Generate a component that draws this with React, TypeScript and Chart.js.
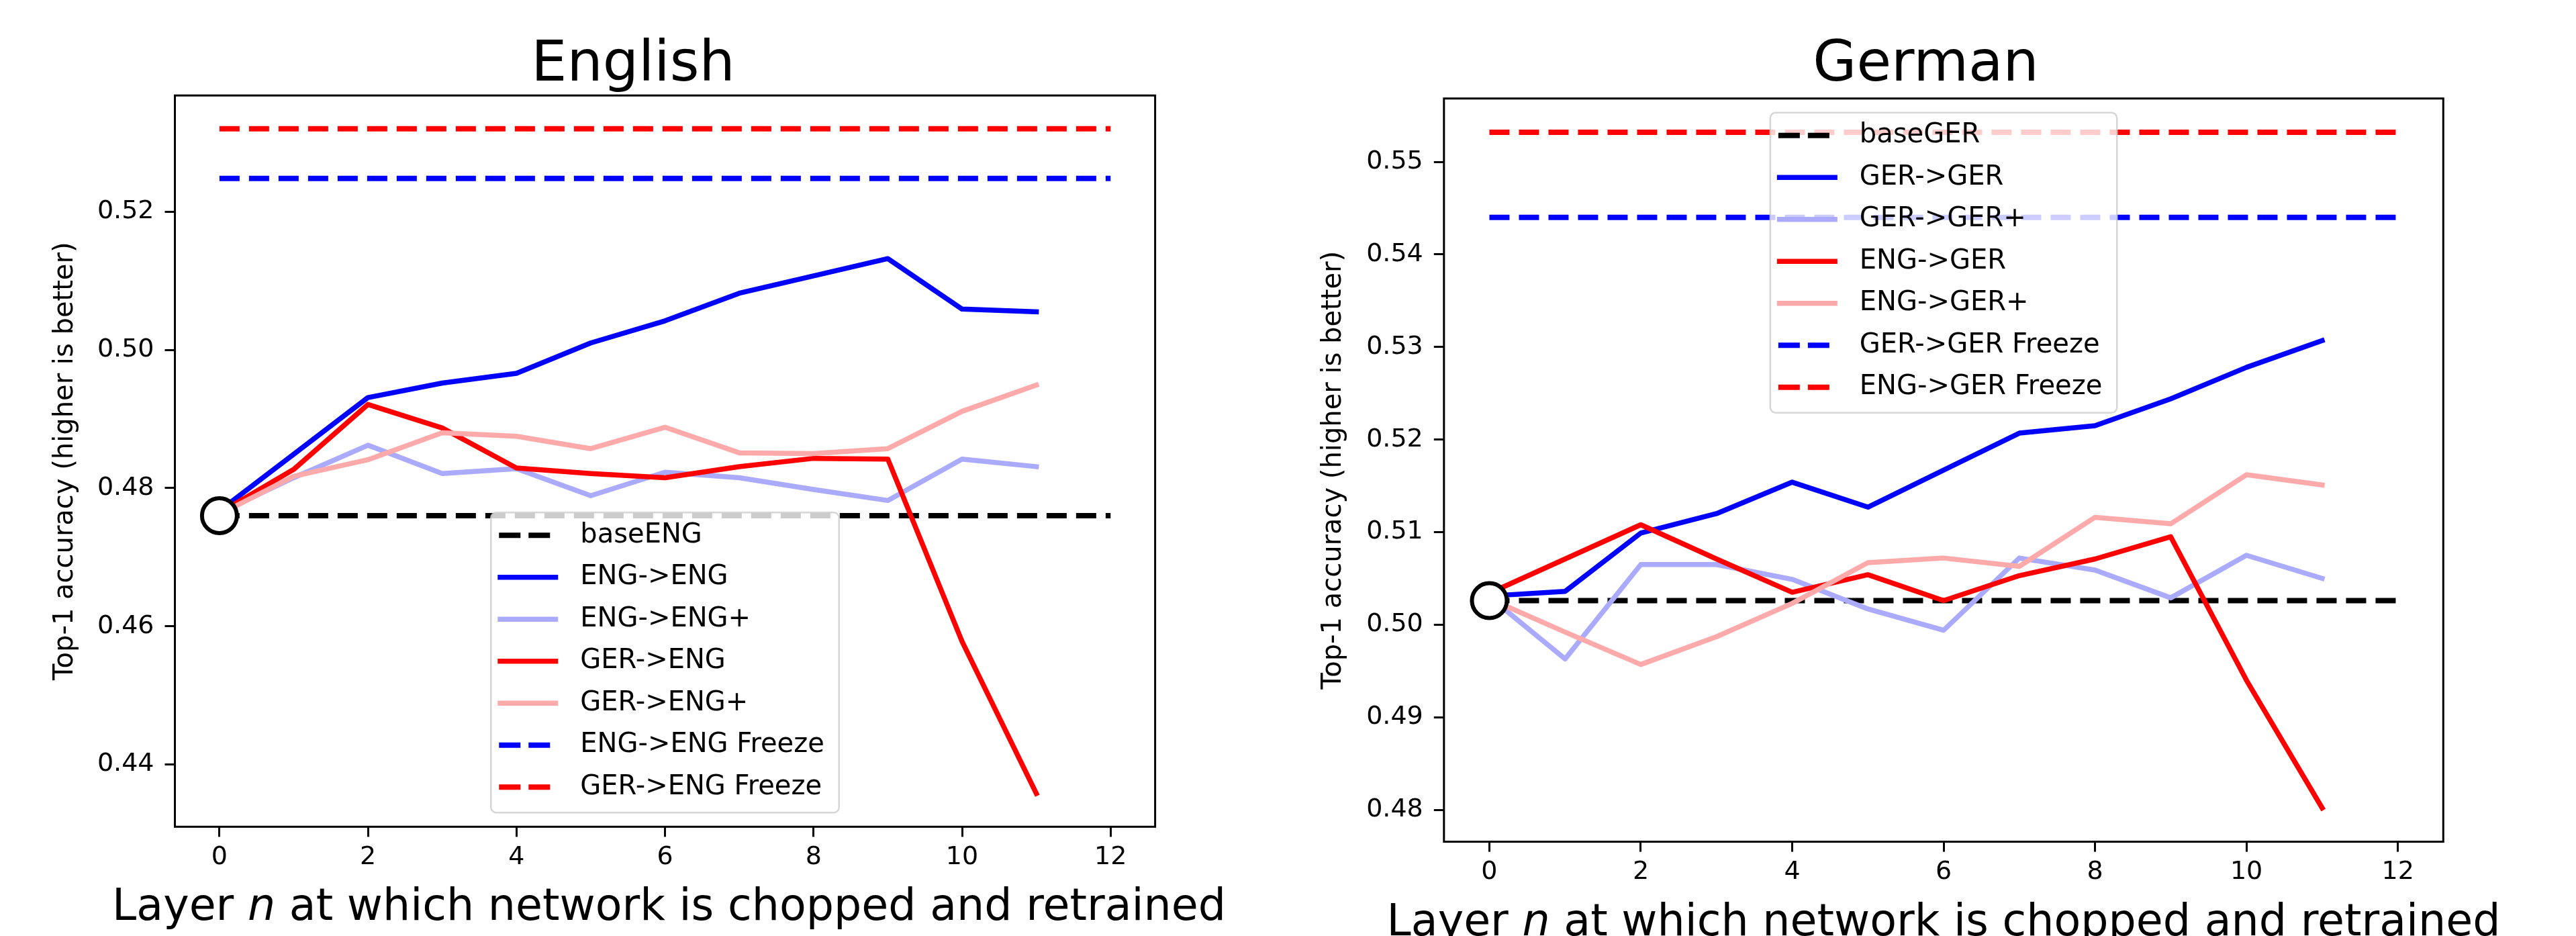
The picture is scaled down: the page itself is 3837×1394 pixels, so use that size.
import React, { useEffect, useRef } from "react";
import { Chart, registerables } from "chart.js";

Chart.register(...registerables);

const FONT = '"DejaVu Sans", sans-serif';

// ---------- shared data ----------
const layers = [0, 1, 2, 3, 4, 5, 6, 7, 8, 9, 10, 11];
const freezeSpan = [0, 12];
const xTicks = [0, 2, 4, 6, 8, 10, 12];
const xLabelParts = ["Layer ", "n", " at which network is chopped and retrained"];
const yAxisTitle = "Top-1 accuracy (higher is better)";

// ---------- English panel ----------
const englishTitle = "English";
const englishLabels = [
  "baseENG",
  "ENG->ENG",
  "ENG->ENG+",
  "GER->ENG",
  "GER->ENG+",
  "ENG->ENG Freeze",
  "GER->ENG Freeze",
];
const baseENG = 0.476;
const engToEng = [0.4767, 0.4849, 0.4931, 0.4952, 0.4966, 0.501, 0.5042, 0.5082, 0.5107, 0.5132, 0.5059, 0.5055];
const engToEngPlus = [0.4764, 0.4815, 0.4862, 0.4821, 0.4828, 0.4789, 0.4823, 0.4815, 0.4798, 0.4782, 0.4842, 0.4831];
const gerToEng = [0.4764, 0.4827, 0.4921, 0.4887, 0.4829, 0.4821, 0.4815, 0.4831, 0.4843, 0.4842, 0.4578, 0.4358];
const gerToEngPlus = [0.4762, 0.4817, 0.4841, 0.488, 0.4875, 0.4857, 0.4888, 0.4851, 0.485, 0.4857, 0.4911, 0.4949];
const engToEngFreeze = 0.5248;
const gerToEngFreeze = 0.532;
const englishYTicks = [0.44, 0.46, 0.48, 0.5, 0.52];

// ---------- German panel ----------
const germanTitle = "German";
const germanLabels = [
  "baseGER",
  "GER->GER",
  "GER->GER+",
  "ENG->GER",
  "ENG->GER+",
  "GER->GER Freeze",
  "ENG->GER Freeze",
];
const baseGER = 0.5026;
const gerToGer = [0.5031, 0.5036, 0.5099, 0.512, 0.5154, 0.5127, 0.5167, 0.5207, 0.5215, 0.5244, 0.5278, 0.5307];
const gerToGerPlus = [0.503, 0.4963, 0.5065, 0.5065, 0.5049, 0.5017, 0.4994, 0.5072, 0.5059, 0.5029, 0.5075, 0.505];
const engToGer = [0.5034, 0.5071, 0.5108, 0.5071, 0.5035, 0.5054, 0.5026, 0.5053, 0.5071, 0.5095, 0.494, 0.4802];
const engToGerPlus = [0.5028, 0.4992, 0.4957, 0.4987, 0.5023, 0.5067, 0.5072, 0.5063, 0.5116, 0.5109, 0.5162, 0.5151];
const gerToGerFreeze = 0.544;
const engToGerFreeze = 0.5532;
const germanYTicks = [0.48, 0.49, 0.5, 0.51, 0.52, 0.53, 0.54, 0.55];

// ---------- styles ----------
const BLACK = "#000000";
const BLUE = "#0000ff";
const LIGHT_BLUE = "#aaaaff";
const RED = "#ff0000";
const PINK = "#ffaaaa";

type Series = { label: string; color: string; dash: boolean; values?: number[]; flat?: number };

type Panel = {
  title: string;
  series: Series[];
  base: number;
  yTicks: number[];
  canvasLeft: number;
  width: number;
  height: number;
  areaLeft: number;
  areaTop: number;
  areaRight: number;
  areaBottom: number;
  yTitleCenter: number;
  xLabelBaseline: number;
  xLabelShift: number;
  legendAt: "lower" | "upper";
};

const englishPanel: Panel = {
  title: englishTitle,
  base: baseENG,
  yTicks: englishYTicks,
  series: [
    { label: englishLabels[0], color: BLACK, dash: true, flat: baseENG },
    { label: englishLabels[1], color: BLUE, dash: false, values: engToEng },
    { label: englishLabels[2], color: LIGHT_BLUE, dash: false, values: engToEngPlus },
    { label: englishLabels[3], color: RED, dash: false, values: gerToEng },
    { label: englishLabels[4], color: PINK, dash: false, values: gerToEngPlus },
    { label: englishLabels[5], color: BLUE, dash: true, flat: engToEngFreeze },
    { label: englishLabels[6], color: RED, dash: true, flat: gerToEngFreeze },
  ],
  canvasLeft: 0,
  width: 1886,
  height: 1394,
  areaLeft: 260.5,
  areaTop: 142.2,
  areaRight: 1720.6,
  areaBottom: 1231.3,
  yTitleCenter: 97.8,
  xLabelBaseline: 1370,
  xLabelShift: 6,
  legendAt: "lower",
};

const germanPanel: Panel = {
  title: germanTitle,
  base: baseGER,
  yTicks: germanYTicks,
  series: [
    { label: germanLabels[0], color: BLACK, dash: true, flat: baseGER },
    { label: germanLabels[1], color: BLUE, dash: false, values: gerToGer },
    { label: germanLabels[2], color: LIGHT_BLUE, dash: false, values: gerToGerPlus },
    { label: germanLabels[3], color: RED, dash: false, values: engToGer },
    { label: germanLabels[4], color: PINK, dash: false, values: engToGerPlus },
    { label: germanLabels[5], color: BLUE, dash: true, flat: gerToGerFreeze },
    { label: germanLabels[6], color: RED, dash: true, flat: engToGerFreeze },
  ],
  canvasLeft: 1900,
  width: 1937,
  height: 1394,
  areaLeft: 2150.8,
  areaTop: 146.7,
  areaRight: 3639.3,
  areaBottom: 1253.6,
  yTitleCenter: 2086.5 - 100,
  xLabelBaseline: 1393,
  xLabelShift: 0,
  legendAt: "upper",
};

function roundRectPath(ctx: CanvasRenderingContext2D, x: number, y: number, w: number, h: number, r: number) {
  ctx.beginPath();
  ctx.moveTo(x + r, y);
  ctx.lineTo(x + w - r, y);
  ctx.arcTo(x + w, y, x + w, y + r, r);
  ctx.lineTo(x + w, y + h - r);
  ctx.arcTo(x + w, y + h, x + w - r, y + h, r);
  ctx.lineTo(x + r, y + h);
  ctx.arcTo(x, y + h, x, y + h - r, r);
  ctx.lineTo(x, y + r);
  ctx.arcTo(x, y, x + r, y, r);
  ctx.closePath();
}

function ChartPanel({ cfg }: { cfg: Panel }) {
  const ref = useRef<HTMLCanvasElement>(null);

  useEffect(() => {
    const canvas = ref.current;
    if (!canvas) return;

    const all: number[] = [];
    cfg.series.forEach((s) => {
      if (s.values) all.push(...s.values);
      if (s.flat !== undefined) all.push(s.flat);
    });
    const lo = Math.min(...all);
    const hi = Math.max(...all);
    const yMin = lo - 0.05 * (hi - lo);
    const yMax = hi + 0.05 * (hi - lo);
    const xLo = Math.min(...freezeSpan, ...layers);
    const xHi = Math.max(...freezeSpan, ...layers);
    const xMin = xLo - 0.05 * (xHi - xLo);
    const xMax = xHi + 0.05 * (xHi - xLo);

    const datasets: any[] = cfg.series.map((s, i) => ({
      label: s.label,
      data: s.values
        ? layers.map((x, k) => ({ x, y: s.values![k] }))
        : freezeSpan.map((x) => ({ x, y: s.flat })),
      borderColor: s.color,
      backgroundColor: s.color,
      borderWidth: s.dash ? 8 : 7.5,
      borderDash: s.dash ? [30, 14] : [],
      borderCapStyle: s.dash ? "butt" : "square",
      borderJoinStyle: "round",
      pointRadius: 0,
      pointHoverRadius: 0,
      tension: 0,
      fill: false,
      order: 20 - i,
    }));
    datasets.push({
      label: "origin",
      data: [{ x: layers[0], y: cfg.base }],
      showLine: false,
      pointRadius: 26,
      pointHoverRadius: 26,
      pointBorderWidth: 6,
      pointBackgroundColor: "#ffffff",
      pointBorderColor: BLACK,
      order: 0,
    });

    const localLeft = cfg.areaLeft - cfg.canvasLeft;
    const localRight = cfg.areaRight - cfg.canvasLeft;
    const yTitleLocal = cfg.yTitleCenter - cfg.canvasLeft;

    const decor = {
      id: "decor",
      afterDraw(chart: any) {
        const ctx: CanvasRenderingContext2D = chart.ctx;
        const a = chart.chartArea;
        ctx.save();

        // axes frame
        ctx.strokeStyle = BLACK;
        ctx.lineWidth = 3;
        ctx.setLineDash([]);
        ctx.strokeRect(a.left, a.top, a.right - a.left, a.bottom - a.top);

        // title
        ctx.fillStyle = BLACK;
        ctx.font = `84px ${FONT}`;
        ctx.textAlign = "center";
        ctx.textBaseline = "alphabetic";
        ctx.fillText(cfg.title, chart.width / 2, 120);

        // x label with italic n
        const normal = `65px ${FONT}`;
        const italic = `oblique 65px ${FONT}`;
        ctx.textAlign = "left";
        const widths = xLabelParts.map((p, i) => {
          ctx.font = i === 1 ? italic : normal;
          return ctx.measureText(p).width;
        });
        const total = widths.reduce((s, w) => s + w, 0);
        let x = (a.left + a.right) / 2 + cfg.xLabelShift - total / 2;
        xLabelParts.forEach((p, i) => {
          ctx.font = i === 1 ? italic : normal;
          ctx.fillText(p, x, cfg.xLabelBaseline);
          x += widths[i];
        });

        // legend
        ctx.font = `40px ${FONT}`;
        const textW = Math.max(...cfg.series.map((s) => ctx.measureText(s.label).width));
        const rowGap = 62.5;
        const boxW = 133 + textW + 22;
        const boxH = 34 + (cfg.series.length - 1) * rowGap + 38;
        const boxLeft = (a.left + a.right) / 2 - boxW / 2;
        const boxTop = cfg.legendAt === "lower" ? a.bottom - 21 - boxH : a.top + 21;
        roundRectPath(ctx, boxLeft, boxTop, boxW, boxH, 8);
        ctx.fillStyle = "rgba(255,255,255,0.8)";
        ctx.fill();
        ctx.strokeStyle = "rgba(204,204,204,0.8)";
        ctx.lineWidth = 2.5;
        ctx.stroke();

        cfg.series.forEach((s, i) => {
          const y = boxTop + 34 + i * rowGap;
          ctx.beginPath();
          ctx.strokeStyle = s.color;
          ctx.lineCap = "butt";
          if (s.dash) {
            ctx.lineWidth = 8;
            ctx.setLineDash([32, 12]);
            ctx.moveTo(boxLeft + 12, y);
            ctx.lineTo(boxLeft + 90, y);
          } else {
            ctx.lineWidth = 7.5;
            ctx.setLineDash([]);
            ctx.moveTo(boxLeft + 10, y);
            ctx.lineTo(boxLeft + 100, y);
          }
          ctx.stroke();
          ctx.setLineDash([]);
          ctx.fillStyle = BLACK;
          ctx.font = `40px ${FONT}`;
          ctx.textAlign = "left";
          ctx.textBaseline = "middle";
          ctx.fillText(s.label, boxLeft + 133, y);
        });

        ctx.restore();
      },
    };

    const chart = new Chart(canvas, {
      type: "line",
      data: { datasets },
      options: {
        animation: false,
        responsive: false,
        devicePixelRatio: 1,
        events: [],
        layout: {
          padding: {
            top: cfg.areaTop,
            left: 0,
            right: cfg.width - localRight,
            bottom: 0,
          },
        },
        plugins: {
          legend: { display: false },
          title: { display: false },
          tooltip: { enabled: false },
        },
        scales: {
          x: {
            type: "linear",
            min: xMin,
            max: xMax,
            afterBuildTicks: (s: any) => {
              s.ticks = xTicks.map((v) => ({ value: v }));
            },
            afterFit: (s: any) => {
              s.height = cfg.height - cfg.areaBottom;
            },
            grid: {
              display: true,
              drawOnChartArea: false,
              drawTicks: true,
              tickLength: 15,
              tickWidth: 3,
              tickColor: BLACK,
            },
            border: { display: false },
            ticks: {
              color: BLACK,
              font: { family: FONT, size: 38 },
              padding: 8,
              maxRotation: 0,
              autoSkip: false,
              callback: (v: any) => String(v),
            },
            title: { display: false },
          },
          y: {
            type: "linear",
            min: yMin,
            max: yMax,
            afterBuildTicks: (s: any) => {
              s.ticks = cfg.yTicks.map((v) => ({ value: v }));
            },
            afterFit: (s: any) => {
              s.width = localLeft;
            },
            grid: {
              display: true,
              drawOnChartArea: false,
              drawTicks: true,
              tickLength: 15,
              tickWidth: 3,
              tickColor: BLACK,
            },
            border: { display: false },
            ticks: {
              color: BLACK,
              font: { family: FONT, size: 38 },
              padding: 16,
              autoSkip: false,
              callback: (v: any) => Number(v).toFixed(2),
            },
            title: {
              display: true,
              text: yAxisTitle,
              color: BLACK,
              font: { family: FONT, size: 40 },
              padding: { top: yTitleLocal - 24, bottom: 0 },
            },
          },
        },
      },
      plugins: [decor],
    } as any);

    return () => chart.destroy();
  }, [cfg]);

  return (
    <canvas
      ref={ref}
      width={cfg.width}
      height={cfg.height}
      style={{ position: "absolute", left: cfg.canvasLeft, top: 0, width: cfg.width, height: cfg.height }}
    />
  );
}

export default function App() {
  return (
    <div
      style={{
        position: "absolute",
        left: 0,
        top: 0,
        width: 3837,
        height: 1394,
        background: "#ffffff",
        overflow: "hidden",
      }}
    >
      <ChartPanel cfg={englishPanel} />
      <ChartPanel cfg={germanPanel} />
    </div>
  );
}
